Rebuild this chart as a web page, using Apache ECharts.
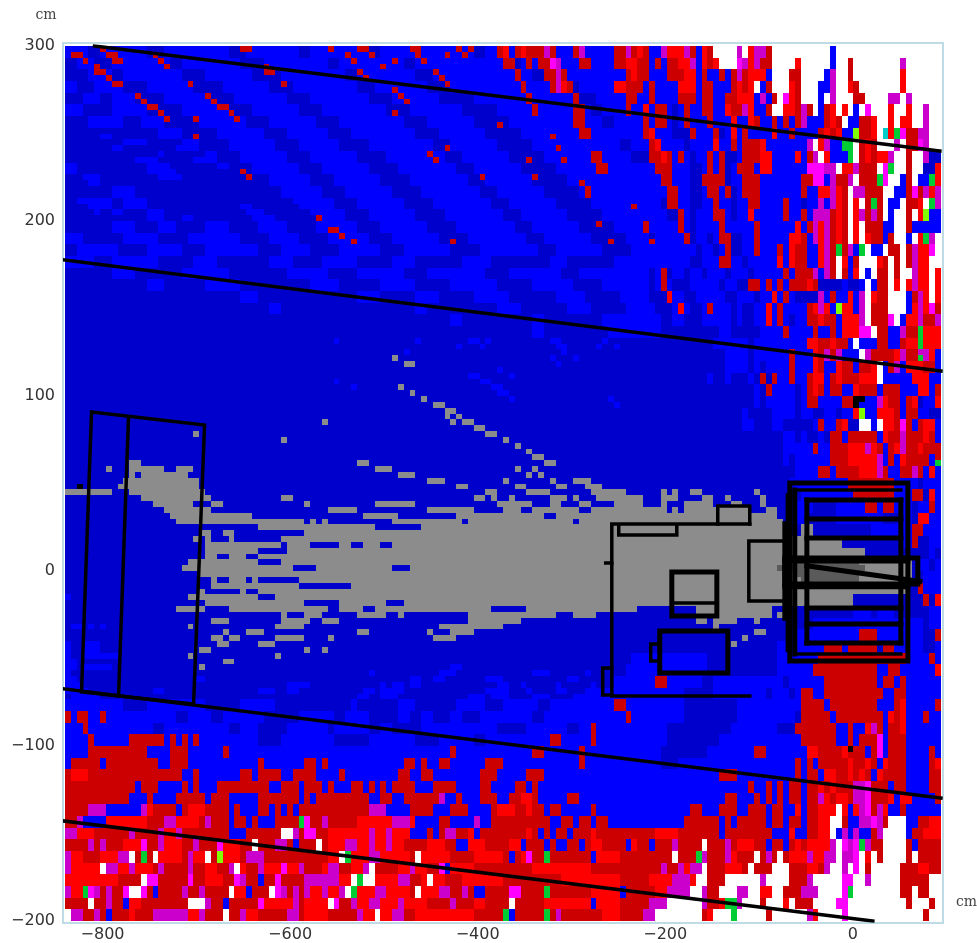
<!DOCTYPE html>
<html><head><meta charset="utf-8"><style>html,body{margin:0;background:#fff}#c{width:977px;height:943px}</style>
<script src="https://cdn.jsdelivr.net/npm/echarts@6/dist/echarts.min.js"></script></head><body><div id="c"></div><script>
const xTicks=[-800,-600,-400,-200,0];
const xRange=[-840,94];
const yRange=[-200,300];
const nCols=150,nRows=150;
const levelCodes='dbgkrRmMGYcwx';
const levelColors=['#0000cc','#0000ff','#8c8c8c','#5a5a5a','#cc0000','#ff0000','#cc00cc','#ff00ff','#00cc33','#80ff00','#00cccc','#ffffff','#000000'];
// each band = two rows; token = level + column where that run ends
const topLeft=[
'b4 d6 b14 d17 b28 d31 b40 d42 b52 d54 b70 d72 b100','d2 b5 d8 b18 d20 b30 d34 b45 d47 b58 d60 b75 d78 b100','d4 b8 d10 b20 d24 b32 d37 b48 d50 b60 d63 b80 d82 b100','b2 d5 b10 d14 b22 d27 b35 d39 b50 d53 b62 d66 b85 d88 b100','d3 b6 d8 b12 d17 b25 d29 b38 d42 b52 d56 b64 d70 b88 d91 b100',
'b3 d8 b14 d20 b28 d32 b40 d44 b55 d59 b68 d74 b90 d92 b100','d4 b10 d13 b17 d23 b31 d35 b43 d47 b58 d62 b70 d76 b92 d94 b100','d6 b12 d16 b20 d26 b34 d38 b45 d49 b60 d64 b72 d78 b100','d8 b14 d19 b23 d28 b36 d40 b47 d52 b63 d66 b74 d80 b95 d97 b100','d10 b17 d22 b26 d30 b38 d42 b50 d55 b65 d68 b76 d82 b97 d100',
'b2 d12 b19 d25 b28 d32 b40 d44 b52 d57 b67 d70 b78 d84 b100','d3 b6 d14 b20 d27 b30 d35 b42 d46 b54 d59 b69 d72 b80 d86 b100','b4 d8 b12 d16 b22 d28 b32 d37 b44 d48 b56 d61 b71 d74 b82 d88 b100','d2 b8 d10 b14 d18 b24 d30 b34 d39 b46 d50 b58 d63 b73 d76 b84 d90 b100','d5 b10 d14 b17 d20 b26 d31 b36 d41 b48 d52 b60 d65 b75 d78 b86 d92 b100',
'd8 b12 d16 b19 d24 b28 d33 b38 d43 b50 d54 b62 d67 b77 d80 b88 d94 b100','b3 d10 b16 d21 b30 d35 b40 d45 b52 d56 b64 d69 b79 d82 b90 d96 b100','d2 b9 d14 b20 d24 b33 d37 b42 d47 b54 d58 b66 d71 b81 d84 b92 d97 b100','b5 d8 b16 d22 b26 d35 b39 d44 b50 d56 b60 d68 b73 d83 b86 d94 b100','d8 b12 d20 b28 d38 b45 d50 b58 d62 b72 d76 b85 d88 b100',
'd14 b17 d24 b30 d42 b47 d54 b60 d66 b74 d80 b87 d92 b100','d30 b33 d50 b54 d60 b64 d70 b76 d84 b89 d95 b100','d35 b37 d60 b62 d74 b78 d86 b90 d96 b100','d66 b68 d80 b82 d92 b100','d80 b82 d93 b100'];
const topRight=[
'r100 b102 m103 R106 m107 r108 b109 R110 r111 w115 m116 w117 R118 m120 r121 w131 b132 w150',
'r100 b101 r102 b103 r105 R107 m108 b109 R110 r111 R112 w115 M116 m117 R118 m119 R119 r121 w125 R126 w131 b132 w134 r135 w143 m144 w150',
'r100 b103 r106 R108 b109 r110 b112 r113 b114 r115 m116 r117 R120 b121 w124 r126 w130 b131 m132 w134 r135 w143 R144 w150',
'b100 r101 b105 R108 b109 r111 b114 r115 R116 r117 R118 w119 b120 r121 w124 R125 r126 w129 b131 m132 w134 R135 r136 w143 R144 w150',
'b100 r101 b105 r108 b109 r111 b113 r115 R118 b119 m120 b121 r122 w123 M124 R125 r126 w129 b130 w131 m132 w135 r137 w141 m143 w144 m145 w150',
'b101 r103 b104 d105 b106 r107 b109 r111 b113 R114 r116 m117 R118 b120 r121 w123 R125 r126 m127 r128 w129 b130 r131 R132 w133 R134 w135 b136 w137 M138 w141 R142 w144 R145 w147 m148 w150',
'b101 r103 b104 d105 b106 r107 b110 r111 b114 R115 b117 R118 r119 b121 r122 b123 r124 b125 r126 m127 b130 r131 R132 r133 w134 b136 r138 R139 w141 R142 w143 R145 w147 m148 w150',
'R101 b104 d107 r108 b111 r112 d113 b114 R115 b116 r117 b121 R122 b124 r125 b129 r130 R131 r132 R133 b135 Y136 r138 R139 w140 c141 R142 G143 M144 r146 m148 w150',
'r101 R102 b106 d107 b111 R112 b114 r115 b116 r119 R120 b127 m128 w129 R130 m131 b133 G135 w136 r137 R138 r139 w142 m143 w144 r146 M147 m148 w150',
'r102 R103 r104 b105 r106 b107 d108 b110 r111 b112 r113 d115 b116 r119 R121 b125 R126 b127 r128 m129 w130 R131 b134 G135 w136 r137 R138 r139 R141 m142 w144 r145 w147 m148 d150',
'b101 r104 b107 d109 b110 r111 b112 r113 d114 b115 r118 b119 R121 b127 M130 m132 w133 R135 m136 r139 w140 M141 G142 w144 r145 w147 d149 R150',
'b102 r104 b107 d109 r113 d114 b116 r119 b126 r128 M130 b131 m132 r134 m135 w136 r139 G140 M141 w143 b144 r145 w146 b148 G149 R150',
'b103 r105 b107 d109 b110 r112 b113 r114 d115 b116 r119 b126 r127 b129 R131 m132 R133 r134 w135 m137 r140 w142 b144 r145 M146 r147 m148 R149 m150',
'b102 d103 r105 b107 d109 b111 r112 b114 d115 b117 r119 b123 r124 b126 d127 b129 m130 b131 m132 R133 r134 w135 R136 w137 r138 G139 r140 w141 b143 w144 r146 R147 w148 G149 m150',
'b103 d105 r106 b107 d108 b111 r113 b114 d115 b117 R118 b123 r124 b126 r127 b128 m131 r132 R133 r134 w135 R136 m137 r138 m139 r140 w141 b142 w144 r145 w146 R147 Y148 b150',
'b105 r106 b107 d108 b112 r113 b118 r119 b125 R126 b127 r128 m129 R130 m131 r132 R133 r134 w135 R136 w137 r140 b142 w144 r145 b150',
'b100 d101 b106 r107 d108 b110 d111 b112 r114 d116 b118 r119 b124 R126 r127 b128 m129 R130 m131 r132 R133 r134 w135 R136 w137 R138 r140 b141 r142 w144 b145 w146 R147 G148 m149 w150',
'b108 d109 b111 d112 b113 r114 d116 b118 r119 b122 r123 b124 R125 r127 b129 R130 m131 r132 G133 r134 m135 b136 G137 w138 b140 w141 r143 w144 r145 m146 R148 M149 w150',
'b107 d109 b112 r114 b116 d117 b122 R123 b124 R125 r127 b129 R130 m131 r132 w133 R134 b135 r136 w139 R140 r141 w142 r143 w144 r145 m146 R148 w150',
'b100 d101 b102 r103 d104 b106 d107 b109 d110 b113 d114 b117 d118 b123 r124 b125 r128 m129 b130 m131 r132 w133 r134 b135 R136 w137 b138 w139 r141 w142 r143 w145 m146 R148 w149 R150',
'd101 b102 r103 b104 d107 b112 d113 b115 d117 r119 b120 r121 b122 r123 b124 r127 R128 r129 d133 b134 d136 b137 w138 b139 r141 w142 R143 w144 R145 m146 R148 w149 R150',
'd103 R104 b106 d108 b113 d115 b118 d119 b121 R122 b123 r124 b125 d129 m130 b131 r132 b134 R135 b136 m137 w138 R139 r141 w144 b145 r146 m147 R148 w149 R150',
'b101 d104 b105 R106 b107 d109 b110 r111 b114 d115 b116 d118 b120 R121 b122 r123 b127 r128 R129 m130 R131 b132 Y133 R135 b136 m137 w138 r141 w144 b145 R146 m147 R148 M149 r150',
'b102 d104 b106 d109 b114 d115 b116 d118 b120 R121 b122 r123 b124 d125 b127 r129 R130 r132 b133 R136 m137 w138 r141 M142 w143 b144 R146 m147 r149 m150',
'b102 d107 R107 d112 b114 d119 b123 r124 b128 r129 b131 r132 b133 R136 M138 w139 r141 b143 m144 r146 G147 R150'];
const midBands=[
'd111 b117 d118 b127 R129 r131 R132 r134 b135 w136 b139 r141 b143 r144 R146 G147 R150',
'd113 b117 d118 b124 r125 b128 R129 r130 m131 r132 m133 b136 w137 m138 r142 R143 m144 r146 m148 R149 b150',
'd113 b117 d118 b119 d120 b124 r125 b128 R129 r130 b132 R133 r135 b136 r138 R139 w140 b141 r142 m143 b144 R147 r149 b150',
'd110 b111 d113 b114 d117 b118 d119 r120 d121 r122 b124 r125 b127 r128 R130 b131 r132 R133 r136 R139 w140 b145 R148 b150',
'd118 b119 d120 r121 b125 d126 b127 r128 R129 r130 b131 r133 b135 R136 r139 b140 r143 b146 R148 b149 r150',
'd118 b119 d120 b125 d126 b127 r129 b133 r135 x136 b139 m140 R141 r143 b144 r145 R146 d147 b149 R150',
'd116 b117 d121 b125 d126 b128 d130 b132 d133 b135 R136 Y137 b139 R142 r143 b144 r146 b148 d150',
'd116 b118 d121 b123 d128 b129 r130 b132 r133 R134 d136 w138 b139 w140 R142 r143 M144 r145 b146 r147 R149 b150',
'd123 b125 d126 b127 d129 b130 d131 r133 b134 r139 b140 R141 r143 m144 r147 R148 r149 b150',
'd123 b126 b128 r129 b131 r134 R137 m138 R139 r140 b141 r142 R143 m144 r146 R147 r150',
'd123 b124 d125 b131 r134 R139 m140 b141 r142 b143 R144 r148 b149 r150',
'd125 b129 r131 b132 r136 R139 m140 r141 b143 r145 m146 r147 b148 R149 b150',
'd124 b134 r142 b146 d147 b150',
'd126 b135 r142 b145 r147 d148 R149 b150',
'd124 b128 d132 b137 r139 b140 r142 b145 d146 b148 r149 b150',
'd124 b127 d132 b140 d143 b145 d146 R148 b150',
'd126 g128 d138 b145 r147 b150',
'd124 g133 d143 b145 r146 d148 b150',
'd124 g137 d148 b149 d150',
'd105 g145 d146 b148 d149 b150',
'd105 g145 d147 b150',
'd105 g144 d146 r147 b150',
'd105 g135 d147 r148 d149 R150',
'd135 b138 d139 b142 d148 b150',
'd128 b147 d148 b150',
'd124 b136 r139 b147 d149 r150',
'd122 b130 r133 b134 r139 d140 r142 b147 d149 b150',
'd97 b110 d122 b129 r144 b148 r149 b150',
'd96 b110 d122 b128 r139 b141 r143 b149 R150',
'd94 b101 r103 b109 d111 b123 d124 b130 r139 b140 r142 b143 r144 b150',
'd91 b106 d111 b120 d121 b124 d125 b126 r128 b130 r140 b142 r144 b150'];
const lowBands=[
'b10 d14 b24 d30 b36 d49 b50 d57 b60 d67 b72 d75 b81 d83 b94 r96 b106 d115 b126 r130 b131 r139 b142 r143 R144 b149 r150',
'r1 b2 r4 b6 r7 b19 d21 b25 d27 b34 d40 b46 d48 b52 d57 b59 d61 b63 d66 b68 d71 b80 d82 b96 r97 b106 d115 b125 d126 r131 b132 r140 b141 R142 r143 R144 b147 r148 b150',
'b3 r4 b15 d17 b28 d30 b33 d38 b45 d46 b52 d54 b56 d61 b74 d79 b86 d88 b90 r91 b103 d114 b122 d125 r132 b134 r135 b137 R138 m139 r140 b141 r143 R144 b150',
'b4 r5 b11 r17 b18 r19 b20 r21 b22 r23 b33 d37 b46 d52 b60 d64 b70 d72 b83 r85 b90 r91 b103 d112 b126 r132 b134 r135 b136 r139 M140 b141 r144 b150',
'b4 r14 b18 r21 b27 r28 b66 r67 b80 r82 b88 r89 b102 d110 b118 r120 b127 R129 r133 R134 r137 b138 r139 M140 b141 r144 b148 r149 b150',
'b1 r6 b7 r16 b18 r21 b33 r34 b41 r43 b44 r45 b58 r60 b61 r62 b64 r66 b72 r75 b88 r89 b102 d105 b125 r126 b127 r128 b129 r130 r134 R135 r137 R138 r139 b140 R141 r144 b148 r149 R150',
'r1 R4 r13 r20 b22 r23 b30 r32 b33 r37 b39 r43 b47 r48 b57 r59 b61 r63 b71 r74 b79 r82 b112 r115 b125 r126 b127 r129 b130 R132 r134 R135 r136 R137 r138 b139 R140 r144 b148 r150',
'r12 b13 r16 b20 r21 b22 r23 b26 r35 b37 r40 b41 r44 b45 r46 b49 r51 b52 r53 b54 r55 b56 r60 b63 r67 b71 r73 b77 r79 b80 r81 b117 r118 b120 r121 b122 r123 b124 r126 b127 r129 R130 r131 R132 r133 r135 m137 M138 r141 b142 r144 b148 r150',
'r11 b14 r15 b19 r24 b25 r28 b33 r40 b41 r42 b43 r52 b54 r56 b58 r64 m65 b67 r68 b71 r74 b76 r78 R80 r81 b86 r88 b113 r115 b118 r119 b120 r121 b122 r123 b124 r126 b127 r129 m130 R131 r132 R134 r135 m137 M138 r141 R142 b143 R145 b149 r150',
'r4 m7 b13 m14 R15 r19 b20 r21 R24 r28 b29 r30 b33 r35 b36 r37 b38 r39 b40 r52 m55 b59 r63 b66 r69 b73 r74 R77 r79 R80 r82 b83 r85 b90 r91 b107 r109 b112 r115 b117 r120 b121 r123 b125 R126 b127 r129 R132 w133 R134 b135 R136 m137 M138 r139 m140 R141 b143 r144 b150',
'r2 m3 b7 R14 r17 m19 R23 r24 m25 r28 b29 r31 b32 r33 b36 r40 G41 M42 r44 m45 r50 R56 m59 R60 b64 r66 b70 m71 b73 r83 b85 r87 b88 r90 b91 r93 b106 r112 b113 r114 b115 r120 b121 r123 b124 r126 b127 r129 R131 w133 r134 b136 m138 M139 m140 r141 w144 b146 r148 R150',
'm2 R5 r11 m12 r16 m17 R19 m20 r28 b31 r34 r37 w39 m40 r41 M43 r45 R52 m53 R55 m56 R59 b62 r63 b64 r65 m67 r69 R70 b71 r79 R80 r81 b82 r83 b84 r86 b87 r90 R91 r101 R105 r112 b113 r121 b124 R125 b127 r129 R131 w132 b133 m134 b135 m136 b138 r139 m140 w144 b145 r147 R150',
'r4 m5 r6 m7 r10 R13 M14 r16 m17 R20 r22 m23 r26 M27 R30 r32 w33 r36 m38 r39 b40 r43 w44 r45 R48 m50 R52 m53 R55 m56 R58 r62 R65 r67 b69 R72 r76 R78 b79 r82 b83 r84 b86 r88 b89 r90 R92 r96 b97 R98 r100 b101 r104 m105 r109 w110 r113 m114 r115 R118 r120 b121 r123 b124 r125 R126 r127 R131 m132 w133 M134 m135 M136 G137 m138 r140 w144 r145 b146 r150',
'm1 R3 r6 R9 m11 w12 r13 G14 r15 w16 R20 r21 m22 R24 w25 r26 Y27 R30 r31 m34 r45 R47 w48 G49 R52 m54 R59 r60 w61 R66 r70 R75 r76 b77 r78 R79 M80 r82 G83 r90 b91 R95 r104 w105 r108 G109 m110 r113 m114 R115 r118 w119 r120 m121 r122 w123 r124 R127 m128 R130 m132 w133 m135 M136 w137 R138 w139 r140 w144 r145 w146 r150',
'm1 R6 w7 m9 R11 m12 R15 r16 m17 r21 m22 r24 R26 r28 m29 w30 R31 r33 m34 R37 M38 R40 m41 r44 R45 m47 r49 R51 m52 w53 r57 R59 m60 R62 r64 M65 b66 R70 r80 R90 r102 m103 r105 m106 R107 m109 w110 r113 R116 r117 w118 r121 w124 r127 R129 r130 m131 w133 m134 w135 M136 w137 r138 w143 r146 R148 r150',
'R9 r13 w14 M16 r21 M22 r24 R27 r29 M30 m31 r33 b34 r36 M37 r41 m47 R49 w50 G51 w53 R57 m59 r61 R62 w63 R65 r68 R75 r85 R95 r100 R104 m107 R108 w110 r113 w119 m120 w124 r127 m128 w133 M135 w137 m138 w143 r148 w150',
'm1 R3 G4 M5 m6 r7 m8 r10 M11 w13 M14 r15 b16 r20 m21 r23 m24 r28 w29 R31 b32 r35 w36 M37 m38 r39 m40 r41 m42 R44 m45 R47 m48 w49 G50 R53 m55 R59 r60 w61 R64 m66 r68 m69 r70 b72 r76 M78 r82 G83 r90 R95 b96 r101 R103 m107 w109 m110 r112 w115 m117 w119 R121 w123 r126 m129 w133 M134 G135 w143 r145 w146 r148 w150',
'r4 w5 r7 m8 r10 b11 R13 r21 w24 m25 r27 b28 r33 M34 R39 m40 r41 R45 w46 M47 r49 m50 R52 m54 R57 m58 R62 r66 m67 r70 R72 r76 w77 r82 R90 b91 R95 r100 m103 w109 m110 r112 R113 G115 m116 w119 r120 w123 R124 w125 r128 w132 M134 w144 r145 w148 r149 w150',
'w1 m3 r5 m6 r7 b8 r11 R12 r15 m21 R23 m24 r27 w28 r30 m31 R33 r38 m40 r41 R45 r50 m51 R53 w54 R56 m58 r60 R70 r75 G76 b77 r82 G83 r84 m85 r92 R95 r99 m101 w109 r110 R111 w114 G115 w120 r121 w127 m128 R129 w133 M134 w147 r148 w150'];
// red clusters of the upper-middle region, two rows per band: [band, runs]
const redClusters=[[0,'_74r75R76_77r78R79r82m83r84_87r88m89_94r96m97r98R99r100'],[1,'_75r77_79r80_81r83M84m85_88r90_94r96R98_98r100'],[2,'_77r78_82r84m85r86_96r97R98r99_99r100'],[3,'_78r79_83r84m85R86r87_94R96r99'],[4,'_79r80_87r88_96r98'],[5,'_80r81_87r89_96r97_99R100'],[6,'_87r89_99r100'],[7,'_88r90_99r100'],[9,'_90r92'],[10,'_91r93']];
// darker diagonals of the upper-left region, row by row
const darkTraces=[[14,'d12'],[15,'d6_8d14'],[16,'_2d10_14d20'],[17,'d8_10d18'],[18,'d16_18d24'],[19,'d12_16d22'],[20,'_4d14_18d26'],[21,'_6d14_20d28'],[22,'d2_8d16_22d30'],[23,'d4_10d20_24d32'],[24,'d6_12d22_26d34'],[25,'d6_14d24_28d36'],[26,'d2_16d26_30d38'],[27,'d4_18d28_32d40'],[28,'_6d8_20d30_34d42'],[29,'_4d10_22d32_36d44']];
// gray plume, row by row ("_" leaves the band value in place)
const plumeLeft=[[64,'_44g45'],[66,'_22g23'],[67,'_37g38'],[71,'_11g13'],[72,'_7g8_11g17_19g22'],[73,'_11g12_13g21'],[74,'_10g23'],[75,'_9g23'],[76,'g8_11g24'],[77,'_13g25_37g39'],[78,'_15g22_25g27_41g42'],[79,'_17g25_45g46'],[80,'_18g32'],[81,'_19g41_42g43_44g45'],[82,'_33g45'],[83,'_23g25_27g29_41g45'],[84,'_22g23_24g25_28g29_37g45'],[85,'_24g37_38g42'],[86,'_24g33_38g45'],[87,'_24g26_28g31_33g45'],[88,'_21g33_37g45'],[89,'_20g39_43g45'],[90,'_23g45'],[91,'_25g26_28g31_32g33_40g45'],[92,'_25g40'],[93,'_23g24_30g31_33g45'],[94,'_21g33_36g45'],[95,'_24g41'],[96,'_19g24_28g45'],[97,'_37g38_41g44'],[98,'_25g28_37g42_44g45'],[99,'_21g22_36g41'],[100,'_27g28_31g34'],[101,'_25g27_28g30_36g41'],[102,'_26g28_33g36'],[103,'_23g25_41g42_44g45'],[104,'_21g22_36g37'],[105,'_27g29'],[106,'_23g24']];
const plumeMiddle=[[53,'_56g57'],[54,'_58g60'],[58,'_57g58'],[59,'_59g60'],[60,'_61g62'],[61,'_63g65'],[62,'_65g67'],[63,'_65g66_67g68'],[64,'_66g67_68g70'],[65,'_70g72'],[66,'_72g74'],[67,'_75g76'],[68,'_77g78'],[69,'_79g80'],[70,'_80g82'],[71,'_50g52_82g84'],[72,'_53g56_77g78_80g81'],[73,'_57g60_79g80_81g82'],[74,'_62g65_75g76_83g84_87g90'],[75,'_67g69_77g79_84g86_89g92'],[76,'_72g74_79g83_90g96'],[77,'_70g72_73g74_76g77_83g86_87g88_91g96'],[78,'_53g60_74g80_83g85_88g90_95g96'],[79,'_45g50_62g70_75g78_80g88_90g96'],[80,'_51g57_67g82_84g96'],[81,'_56g68_69g87_88g96'],[82,'_45g53_61g96'],[83,'_45g96'],[84,'_45g96'],[85,'_47g49_51g54_56g96'],[86,'_45g96'],[87,'_45g96'],[88,'_45g96'],[89,'_45g56_59g96'],[90,'_45g96'],[91,'_45g96'],[92,'_49g96'],[93,'_45g96'],[94,'_45g96'],[95,'_47g55_58g96'],[96,'_47g51_53g73_79g96'],[97,'_50g55_57g58_69g84_87g91'],[98,'_45g47_69g78'],[99,'_64g75'],[100,'_50g52_62g63_66g70'],[101,'_45g46_63g67']];
const plumeRight=[[76,'_102g103_104g105_107g109_118g119'],[77,'_96g99_102g105_109g111_113g114_119g120'],[78,'_94g99_102g103_106g111_114g116_119g120'],[79,'_96g103_104g105_106g117_120g122'],[80,'_96g122'],[81,'_96g123'],[82,'_96g124'],[83,'_96g124_126g127'],[84,'_96g124_126g127'],[85,'_96g124_126g127'],[86,'_96g124_126g127'],[87,'_96g124'],[88,'_96g124_125k136'],[89,'_96g122k137'],[90,'_96g123k124_125k136'],[91,'_96g124_126k136'],[92,'_96g124'],[93,'_96g124'],[94,'_96g124'],[95,'_96g124'],[96,'_96g98_108g121'],[97,'_108g121_122g123'],[98,'_108g110_111g115_118g119'],[99,'_111g112'],[100,'_118g120'],[101,'_116g117'],[102,'_114g115']];
const blueTraces=[[50,'_46b47_60b61_69b71_72b73_83b85_92b93'],[51,'_67b68_71b72_84b86_91b92_94b95'],[52,'_58b59_85b86'],[53,'_83b84_87b88'],[54,'_84b85'],[55,'_74b75'],[56,'_69b71_76b77'],[57,'_46b47_71b73'],[58,'_49b50_73b75'],[59,'_74b76'],[60,'_76b77_93b94'],[61,'_94b95'],[94,'b1'],[99,'_1b3_4b5_6b7'],[102,'b1_3b6'],[103,'b1_3b6'],[104,'b1_3b6_6b9'],[105,'b2'],[106,'b2_3b8_66b68'],[107,'b1_52b53_64b67_80b83_89b90'],[108,'b2_22b24_59b61_63b65_72b75_86b88'],[109,'b3_38b42_54b55_56b58_59b61_74b76_78b79_84b85_90b91'],[110,'b4_15b17_33b36_38b40_51b53_54b58_72b76_79b80_84b86_89b92'],[111,'_1b6_50b52_54b57_69b72_73b76_80b83_87b93']];
// isolated cells: [column, row]
const redCells=[[6,0],[1,1],[2,1],[7,1],[8,1],[8,2],[9,2],[3,2],[5,3],[5,4],[6,4],[7,5],[8,6],[9,6],[12,8],[13,9],[14,10],[15,10],[16,11],[17,12],[22,12],[22,15],[15,1],[16,2],[17,3],[21,6],[24,8],[25,9],[26,10],[27,10],[28,11],[29,12],[30,0],[31,0],[34,3],[34,4],[35,4],[37,6],[30,21],[31,22],[43,29],[45,0],[50,0],[51,0],[48,1],[52,1],[49,2],[54,3],[56,2],[59,0],[60,0],[60,1],[61,2],[65,1],[67,0],[68,1],[69,0],[50,4],[51,5],[63,4],[64,5],[65,6],[56,7],[57,8],[58,9],[56,11],[65,17],[62,18],[63,19],[74,13],[83,15],[84,17],[79,19],[85,19],[71,22],[80,22],[88,23],[89,24],[89,25],[97,27],[91,30],[99,30],[99,31],[45,31],[46,31],[47,32],[49,33],[66,33],[93,33],[100,33]];
const otherCells=[[146,53,'G'],[149,71,'G'],[2,75,'x'],[136,60,'x'],[134,120,'x']];
// detector outlines, in cm
const thinOutlines=[
[[-808.5,300],[92.8,240]],[[-840.5,177.7],[93.9,114.3]],[[-840.5,-67.4],[93.9,-129.7]],[[-840.5,-142.9],[21.3,-200]],
[[-811.7,90.9],[-691.2,83.4],[-702.9,-76],[-822.4,-69.1],[-811.7,90.9]],[[-772.3,87.4],[-782.9,-71.4]],
[[-109.9,26.9],[-257,26.9],[-257,-71.4],[-109.9,-71.4]],[[-144,26.9],[-144,37.1],[-109.9,37.1],[-109.9,26.9]],
[[-249.6,25.7],[-249.6,20.6],[-187.7,20.6],[-187.7,25.7]],[[-263.5,4.6],[-257,4.6]],
[[-193,-18.3],[-145,-18.3]],[[-215.5,-41.7],[-205.9,-41.7],[-205.9,-51.4],[-215.5,-51.4],[-215.5,-41.7]],
[[-257,-55.4],[-266.7,-55.4],[-266.7,-70.9],[-257,-70.9]],[[-72.5,17.1],[-110.9,17.1],[-110.9,-17.1],[-72.5,-17.1]],
[[-61.9,46.3],[51.2,46.3]],[[-61.9,-47.4],[51.2,-47.4]]];
const heavyOutlines=[
[[-193,-0.6],[-145,-0.6],[-145,-25.7],[-193,-25.7],[-193,-0.6]],
[[-205.9,-34.3],[-133.3,-34.3],[-133.3,-58.3],[-205.9,-58.3],[-205.9,-34.3]],
[[-67.2,50.3],[58.7,50.3],[58.7,-51.4],[-67.2,-51.4],[-67.2,50.3]],
[[-61.9,46.3],[-61.9,-47.4]],[[-49,40.6],[-49,-41.1]],[[51.2,40.6],[51.2,-41.1]],
[[-49,40.6],[51.2,40.6]],[[-49,29.7],[51.2,29.7]],[[-49,18.9],[51.2,18.9]],[[-49,-21.1],[51.2,-21.1]],[[-49,-30.3],[51.2,-30.3]],[[-49,-41.1],[51.2,-41.1]],
[[-72.5,7.4],[69.3,7.4],[69.3,-7.4],[-72.5,-7.4],[-72.5,7.4]],[[-72.5,5.7],[58.7,5.7]],[[-72.5,-9],[58.7,-9]],[[-49,3],[71.5,-6]],
[[-72.5,27],[-72.5,-27]],[[-69,43],[-69,-45]]];

const grid=[];for(let r=0;r<nRows;r++)grid.push(new Array(nCols).fill('w'));
function paint(row,str){const re=/([a-zA-Z_])(\d+)/g;let m,c=0;while((m=re.exec(str))){const end=Math.min(+m[2],nCols);if(end<=c)continue;if(m[1]!=='_')for(let i=c;i<end;i++)grid[row][i]=m[1];c=end;}}
const bands=topLeft.map((s,i)=>s+' '+topRight[i]).concat(midBands,lowBands);
bands.forEach((s,i)=>{paint(2*i,s);paint(2*i+1,s);});
redClusters.forEach(([b,s])=>{paint(2*b,s);paint(2*b+1,s);});
[darkTraces,plumeLeft,plumeMiddle,plumeRight,blueTraces].forEach(l=>l.forEach(([r,s])=>paint(r,s)));
redCells.forEach(([c,r])=>{grid[r][c]='r';});
otherCells.forEach(([c,r,k])=>{grid[r][c]=k;});
const cw=(xRange[1]-xRange[0])/nCols,ch=(yRange[1]-yRange[0])/nRows;
const cells=[];
grid.forEach((row,r)=>{let s=0;for(let c=1;c<=nCols;c++){if(c===nCols||row[c]!==row[s]){if(row[s]!=='w')cells.push([xRange[0]+s*cw,xRange[0]+c*cw,yRange[1]-(r+1)*ch,yRange[1]-r*ch,levelCodes.indexOf(row[s])]);s=c;}}});
const font='"DejaVu Sans"';
const lineSeries=(list,w)=>list.map(d=>({type:'line',data:d,symbol:'none',silent:true,animation:false,z:5,lineStyle:{color:'#000',width:w,cap:'square',join:'miter'}}));
const chart=echarts.init(document.getElementById('c'),null,{renderer:'canvas'});
chart.setOption({animation:false,
 graphic:[{type:'rect',z:0,silent:true,shape:{x:63,y:43,width:880,height:880},style:{fill:'none',stroke:'#bfdbe6',lineWidth:2}}],
 grid:{left:65,right:36,top:46,bottom:22,outerBoundsMode:'none'},
 xAxis:{type:'value',min:xRange[0],max:xRange[1],name:'cm',nameLocation:'end',nameGap:15,nameTextStyle:{fontFamily:'"DejaVu Serif"',fontSize:14,color:'#444',verticalAlign:'bottom',padding:[0,0,12,0]},axisLine:{show:false,onZero:false},axisTick:{show:false},splitLine:{show:false},
  axisLabel:{customValues:xTicks,margin:6,fontFamily:font,fontSize:16,color:'#333',formatter:v=>String(v).replace('-','\u2212')}},
 yAxis:{type:'value',min:yRange[0],max:yRange[1],interval:100,name:'cm',nameLocation:'end',nameGap:24,nameTextStyle:{fontFamily:'"DejaVu Serif"',fontSize:14,color:'#444',padding:[0,38,0,0]},axisLine:{show:false,onZero:false},axisTick:{show:false},splitLine:{show:false},
  axisLabel:{margin:10,fontFamily:font,fontSize:16,color:'#333',formatter:v=>String(v).replace('-','\u2212')}},
 series:[{type:'custom',silent:true,animation:false,progressive:0,data:cells,encode:{x:[0,1],y:[2,3]},z:2,
  renderItem:(p,api)=>{const a=api.coord([api.value(0),api.value(3)]),b=api.coord([api.value(1),api.value(2)]);const x=Math.round(a[0]),y=Math.round(a[1]);return{type:'rect',shape:{x,y,width:Math.round(b[0])-x,height:Math.round(b[1])-y},style:{fill:levelColors[api.value(4)]}};}},
  ...lineSeries(thinOutlines,3.5),...lineSeries(heavyOutlines,5)]
});
</script></body></html>
